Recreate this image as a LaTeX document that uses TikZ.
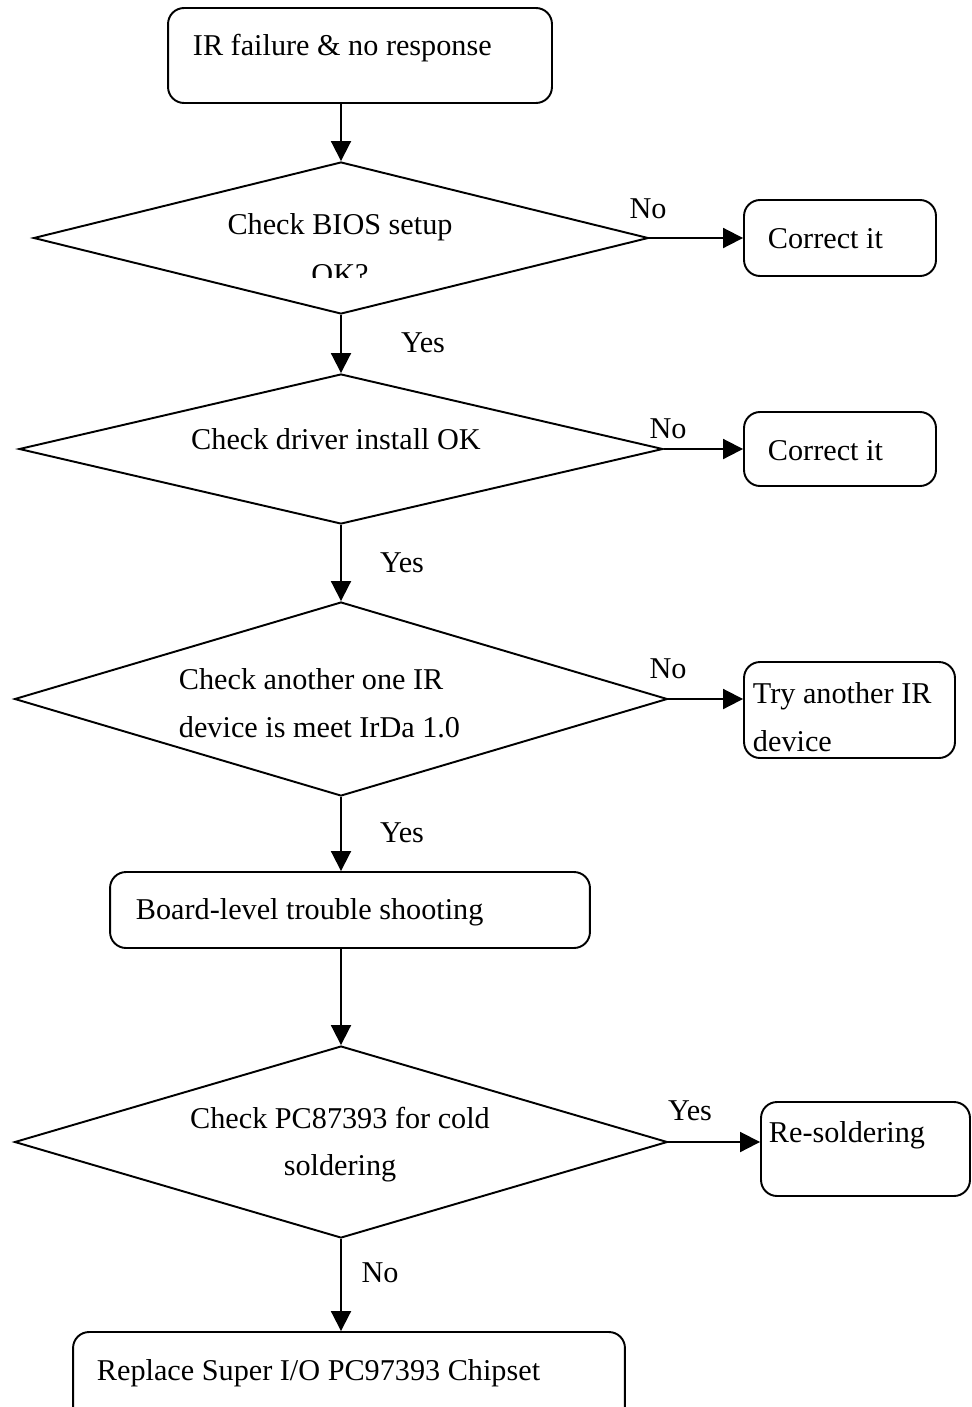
\documentclass[tikz,border=0pt]{standalone}
\usepackage{fontspec}
\setmainfont{Liberation Serif}
\usetikzlibrary{shapes.geometric, arrows.meta, positioning}

\begin{document}
\begin{tikzpicture}[x=0.02cm, y=-0.02cm, >={Triangle[length=0.4cm, width=0.4cm]}, line width=1.1pt,
  font=\fontsize{17.2}{27}\selectfont,
  stepbox/.style={draw, rounded corners=0.32cm, inner sep=0pt},
  decision/.style={draw, diamond, inner sep=0pt},
  txt/.style={inner sep=0pt},
  flow/.style={->}]
  \useasboundingbox (0,0) rectangle (971,1407);

  % Start
  \node[stepbox, minimum width=7.68cm, minimum height=1.9cm] (start) at (360,55.5) {};
  \node[txt, anchor=west] (starttxt) at (192,48) {IR failure \& no response};

  % BIOS check
  \node[decision, minimum width=12.3cm, minimum height=3.04cm] (bios) at (341,238) {};
  \node[txt] (biostxt) at (340,227) {Check BIOS setup};
  \begin{scope}
    \clip (250,250) rectangle (430,277);
    \node[txt] (biosok) at (340,275) {OK?};
  \end{scope}
  \node[stepbox, minimum width=3.84cm, minimum height=1.52cm] (fixbios) at (840,238) {};
  \node[txt, anchor=west] (fixbiostxt) at (767,239) {Correct it};
  \node[txt] (biosno) at (648,209) {No};
  \draw[flow] (start.south -| bios.north) -- (bios.north);
  \draw[flow] (bios.east) -- (fixbios.west);

  % Driver check
  \node[decision, minimum width=12.88cm, minimum height=3.0cm] (drv) at (341,449) {};
  \node[txt] (drvtxt) at (336,439) {Check driver install OK};
  \node[stepbox, minimum width=3.84cm, minimum height=1.48cm] (fixdrv) at (840,449) {};
  \node[txt, anchor=west] (fixdrvtxt) at (767,451) {Correct it};
  \node[txt] (drvno) at (668,429) {No};
  \node[txt] (biosyes) at (423,343) {Yes};
  \draw[flow] (bios.south) -- (drv.north);
  \draw[flow] (drv.east) -- (fixdrv.west);

  % Device check
  \node[decision, minimum width=13.06cm, minimum height=3.88cm] (dev) at (341,699) {};
  \node[txt, anchor=west, align=left] (devtxt) at (178,703) {Check another one IR\\device is meet IrDa 1.0};
  \node[stepbox, minimum width=4.22cm, minimum height=1.92cm] (tryir) at (849.5,710) {};
  \node[txt, anchor=west, align=left] (tryirtxt) at (752,717) {Try another IR\\device};
  \node[txt] (devno) at (668,669) {No};
  \node[txt] (drvyes) at (402,563) {Yes};
  \draw[flow] (drv.south) -- (dev.north);
  \draw[flow] (dev.east) -- (dev.east -| tryir.west);

  % Board level
  \node[stepbox, minimum width=9.6cm, minimum height=1.52cm] (board) at (350,910) {};
  \node[txt, anchor=west] (boardtxt) at (135,912) {Board-level trouble shooting};
  \node[txt] (devyes) at (402,833) {Yes};
  \draw[flow] (dev.south) -- (dev.south |- board.north);

  % Cold soldering check
  \node[decision, minimum width=13.06cm, minimum height=3.84cm] (cold) at (341,1142) {};
  \node[txt, align=center] (coldtxt) at (340,1144.5) {Check PC87393 for cold\\soldering};
  \node[stepbox, minimum width=4.18cm, minimum height=1.88cm] (resold) at (865.5,1149) {};
  \node[txt, anchor=west] (resoldtxt) at (768,1135) {Re-soldering};
  \node[txt] (coldyes) at (690,1111) {Yes};
  \draw[flow] (board.south -| cold.north) -- (cold.north);
  \draw[flow] (cold.east) -- (cold.east -| resold.west);

  % Replace
  \node[stepbox, minimum width=11.04cm, minimum height=1.96cm] (replace) at (349,1381) {};
  \node[txt, anchor=west] (replacetxt) at (96,1373) {Replace Super I/O PC97393 Chipset};
  \node[txt] (coldno) at (380,1273) {No};
  \draw[flow] (cold.south) -- (cold.south |- replace.north);
\end{tikzpicture}
\end{document}
